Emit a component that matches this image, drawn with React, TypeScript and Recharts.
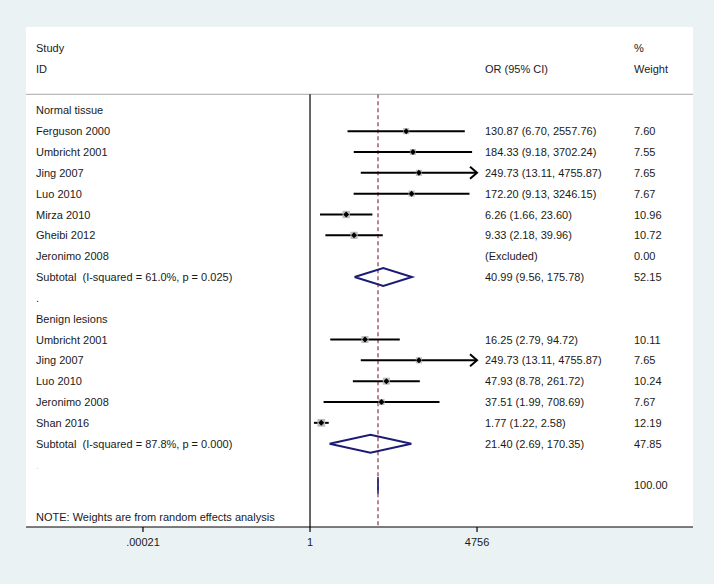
import React from "react";
import { CartesianGrid, ComposedChart, ReferenceLine, Scatter, XAxis, YAxis } from "recharts";

// rows of the table, top to bottom (row index = y value)
const rowLabels = [
  "Normal tissue",
  "Ferguson 2000",
  "Umbricht 2001",
  "Jing 2007",
  "Luo 2010",
  "Mirza 2010",
  "Gheibi 2012",
  "Jeronimo 2008",
  "Subtotal  (I-squared = 61.0%, p = 0.025)",
  ".",
  "Benign lesions",
  "Umbricht 2001",
  "Jing 2007",
  "Luo 2010",
  "Jeronimo 2008",
  "Shan 2016",
  "Subtotal  (I-squared = 87.8%, p = 0.000)",
  ".",
  "",
];
const orLabels = [
  "",
  "130.87 (6.70, 2557.76)",
  "184.33 (9.18, 3702.24)",
  "249.73 (13.11, 4755.87)",
  "172.20 (9.13, 3246.15)",
  "6.26 (1.66, 23.60)",
  "9.33 (2.18, 39.96)",
  "(Excluded)",
  "40.99 (9.56, 175.78)",
  "",
  "",
  "16.25 (2.79, 94.72)",
  "249.73 (13.11, 4755.87)",
  "47.93 (8.78, 261.72)",
  "37.51 (1.99, 708.69)",
  "1.77 (1.22, 2.58)",
  "21.40 (2.69, 170.35)",
  "",
  "",
];
const weightLabels = [
  "", "7.60", "7.55", "7.65", "7.67", "10.96", "10.72", "0.00", "52.15", "",
  "", "10.11", "7.65", "10.24", "7.67", "12.19", "47.85", "", "100.00",
];

// individual studies (Jeronimo 2008 normal tissue excluded)
const studyRow = [1, 2, 3, 4, 5, 6, 11, 12, 13, 14, 15];
const studyOR = [130.87, 184.33, 249.73, 172.2, 6.26, 9.33, 16.25, 249.73, 47.93, 37.51, 1.77];
const studyLo = [6.7, 9.18, 13.11, 9.13, 1.66, 2.18, 2.79, 13.11, 8.78, 1.99, 1.22];
const studyHi = [2557.76, 3702.24, 4755.87, 3246.15, 23.6, 39.96, 94.72, 4755.87, 261.72, 708.69, 2.58];
const studyWeight = [7.6, 7.55, 7.65, 7.67, 10.96, 10.72, 10.11, 7.65, 10.24, 7.67, 12.19];

// pooled estimates
const poolRow = [8, 16, 18];
const poolOR = [40.99, 21.4, 31.4];
const poolLo = [9.56, 2.69, 31.2];
const poolHi = [175.78, 170.35, 31.6];

const overallOR = 31.4;
const xTicks = [0.00021, 1, 4756];
const xLogMin = -6.253;
const xLogMax = 8.432;

const FONT = "'Liberation Sans', Arial, Helvetica, sans-serif";
const TXT = "#1a1a1a";
const NAVY = "#1c1c74";
const DASH = "#a86a78";

if (typeof document !== "undefined") document.body.style.margin = "0";

const keepSpaces = (s: string) => s.replace(/  /g, " \u00a0");

const textRows = rowLabels.map((label, i) => ({
  x: 1,
  y: i,
  label,
  or: orLabels[i],
  w: weightLabels[i],
}));
const headerRows = [
  { x: 1, y: -3, label: "Study", or: "", w: "%" },
  { x: 1, y: -2, label: "ID", or: "OR (95% CI)", w: "Weight" },
  { x: 1, y: 19.5, label: "NOTE: Weights are from random effects analysis", or: "", w: "" },
];

const studies = studyRow.map((y, i) => ({
  x: studyOR[i],
  y,
  lo: studyLo[i],
  hi: studyHi[i],
  w: studyWeight[i],
}));

function TextCells(props: any) {
  const { cy, payload } = props;
  const faint = payload.y === 17;
  return (
    <g fontFamily={FONT} fontSize={11} fill={faint ? "#dddddd" : TXT}>
      <text x={36} y={cy} dominantBaseline="central">{keepSpaces(payload.label)}</text>
      <text x={485} y={cy} dominantBaseline="central">{payload.or}</text>
      <text x={634} y={cy} dominantBaseline="central">{payload.w}</text>
    </g>
  );
}

function StudyMark(props: any) {
  const { cx, cy, payload } = props;
  const s = 2.2 * Math.sqrt(payload.w);
  const d = 3;
  return (
    <g>
      <rect x={cx - s / 2} y={cy - s / 2} width={s} height={s} fill="#bcbcbc" />
      <path d={`M${cx - d},${cy} L${cx},${cy - d} L${cx + d},${cy} L${cx},${cy + d} Z`} fill="#000" />
    </g>
  );
}

function ArrowHead(props: any) {
  const { cx, cy } = props;
  return (
    <path
      d={`M${cx - 7},${cy - 6} L${cx},${cy} L${cx - 7},${cy + 6}`}
      fill="none"
      stroke="#000"
      strokeWidth={2}
    />
  );
}

const Empty = () => <g />;

export default function App() {
  const h = 0.43;
  return (
    <div style={{ width: 714, height: 584, background: "#eaf2f3" }}>
      <ComposedChart width={714} height={584} margin={{ top: 27, right: 21, bottom: 27, left: 26 }}>
        <CartesianGrid horizontal={false} vertical={false} fill="#ffffff" />
        <XAxis
          type="number"
          dataKey="x"
          scale="log"
          domain={[Math.pow(10, xLogMin), Math.pow(10, xLogMax)]}
          allowDataOverflow
          ticks={xTicks}
          tickFormatter={(v: number) => (v < 1 ? ".00021" : String(v))}
          height={30}
          tickSize={5}
          tickMargin={6}
          tick={{ fontSize: 11, fill: TXT, fontFamily: FONT }}
          axisLine={{ stroke: "#000", strokeWidth: 1.2 }}
          tickLine={{ stroke: "#000", strokeWidth: 1.2 }}
        />
        <YAxis type="number" dataKey="y" domain={[-4, 20]} reversed hide allowDataOverflow />

        <ReferenceLine y={-0.77} stroke="#a8a8a8" strokeWidth={1} />
        <ReferenceLine
          segment={[{ x: 1, y: -0.77 }, { x: 1, y: 20 }]}
          stroke="#000"
          strokeWidth={1.2}
        />

        {poolRow.map((r, i) => (
          <Scatter
            key={`pool${i}`}
            data={[
              { x: poolLo[i], y: r },
              { x: poolOR[i], y: r - (i === 2 ? 0.4 : h) },
              { x: poolHi[i], y: r },
              { x: poolOR[i], y: r + (i === 2 ? 0.4 : h) },
              { x: poolLo[i], y: r },
            ]}
            line={{ stroke: NAVY, strokeWidth: i === 2 ? 1.5 : 2 }}
            shape={Empty}
            isAnimationActive={false}
          />
        ))}

        <ReferenceLine
          segment={[{ x: overallOR, y: -0.77 }, { x: overallOR, y: 20 }]}
          stroke={DASH}
          strokeWidth={1.6}
          strokeDasharray="4 3"
        />

        {studies.map((s, i) => (
          <Scatter
            key={`ci${i}`}
            data={[{ x: s.lo, y: s.y }, { x: s.hi, y: s.y }]}
            line={{ stroke: "#000", strokeWidth: 2 }}
            shape={Empty}
            isAnimationActive={false}
          />
        ))}
        <Scatter
          data={studies.filter((s) => s.hi >= 4755).map((s) => ({ x: s.hi, y: s.y }))}
          shape={ArrowHead}
          isAnimationActive={false}
        />
        <Scatter data={studies} shape={StudyMark} isAnimationActive={false} />

        <Scatter data={textRows} shape={TextCells} isAnimationActive={false} />
        <Scatter data={headerRows} shape={TextCells} isAnimationActive={false} />
      </ComposedChart>
    </div>
  );
}
